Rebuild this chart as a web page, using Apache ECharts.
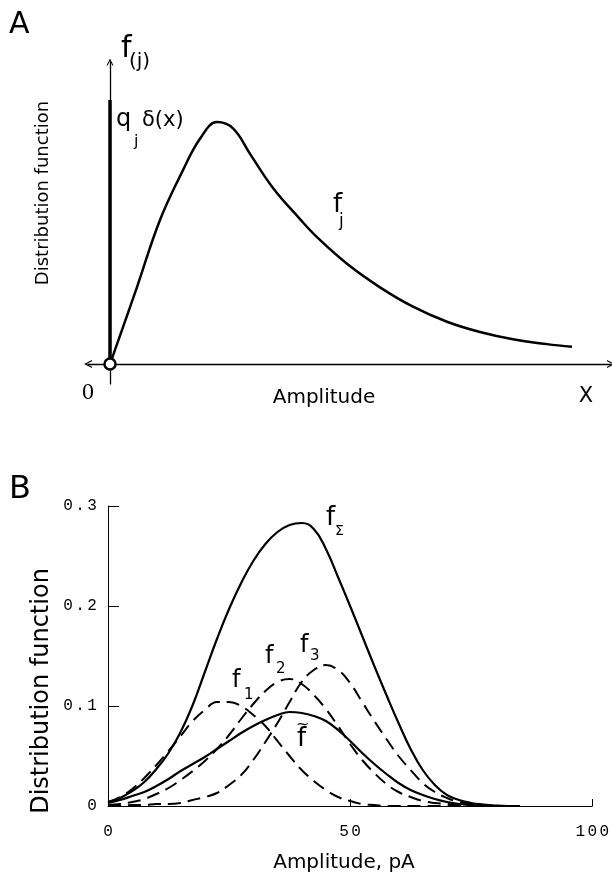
<!DOCTYPE html>
<html>
<head>
<meta charset="utf-8">
<script src="https://cdn.jsdelivr.net/npm/echarts@6/dist/echarts.min.js"></script>
<style>
  html, body { margin: 0; padding: 0; background: #fff; }
  #main { width: 612px; height: 878px; }
</style>
</head>
<body>
<div id="main"></div>
<script>
// ---- panel A : schematic, arbitrary units ----
var ampA = [0, 5.4, 10, 14.6, 18, 21.4, 24.6, 28, 32.6, 38, 41.4, 47.4, 54, 60.6, 67.4, 74, 80.6, 87.4, 92.4];
var fjA  = [0, 25.5, 47.7, 64.2, 74.6, 80.1, 78.0, 69.6, 58.3, 48.0, 42.0, 33.2, 25.4, 19.0, 14.0, 10.6, 8.2, 6.6, 5.7];
var deltaA = [0, 87.4];   // q_j delta(x) spike at x = 0

// ---- panel B : amplitude in pA ----
var ampB = [0, 2.5, 5, 7.5, 10, 12.5, 15, 17.5, 20, 22.5, 25, 27.5, 30, 32.5, 35, 37.5, 40, 42.5, 45, 47.5,
            50, 52.5, 55, 57.5, 60, 62.5, 65, 67.5, 70, 72.5, 75, 77.5, 80, 82.5, 85];
var fSum = [0.004, 0.008, 0.015, 0.024, 0.037, 0.053, 0.074, 0.101, 0.134, 0.167, 0.197, 0.223, 0.245, 0.262, 0.274, 0.281, 0.283, 0.277, 0.257, 0.229,
            0.200, 0.170, 0.140, 0.111, 0.083, 0.057, 0.036, 0.021, 0.011, 0.006, 0.003, 0.0015, 0.0005, 0, 0];
var fTilde = [0.003, 0.006, 0.010, 0.014, 0.020, 0.027, 0.035, 0.042, 0.049, 0.057, 0.065, 0.073, 0.080, 0.086, 0.091, 0.094, 0.093, 0.090, 0.085, 0.076,
              0.065, 0.053, 0.042, 0.032, 0.023, 0.016, 0.011, 0.007, 0.004, 0.002, 0.001, 0.0005, 0, 0, 0];
var f1 = [0.004, 0.009, 0.017, 0.028, 0.041, 0.055, 0.070, 0.085, 0.096, 0.104, 0.104, 0.100, 0.091, 0.080, 0.065, 0.050, 0.036, 0.025, 0.016, 0.009,
          0.005, 0.002, 0.001, 0, 0, 0, 0, 0, 0, 0, 0, 0, 0, 0, 0];
var f2 = [0.001, 0.002, 0.004, 0.007, 0.012, 0.018, 0.026, 0.035, 0.045, 0.057, 0.071, 0.087, 0.102, 0.115, 0.124, 0.127, 0.122, 0.111, 0.097, 0.080,
          0.062, 0.046, 0.033, 0.022, 0.014, 0.009, 0.005, 0.003, 0.002, 0.001, 0, 0, 0, 0, 0];
var f3 = [0, 0, 0.001, 0.001, 0.002, 0.002, 0.003, 0.006, 0.009, 0.013, 0.021, 0.031, 0.046, 0.064, 0.083, 0.104, 0.124, 0.136, 0.141, 0.136,
          0.123, 0.104, 0.085, 0.067, 0.050, 0.036, 0.023, 0.014, 0.008, 0.004, 0.002, 0.001, 0, 0, 0];
var xTicksB = ['0', '50', '100'];
var yTicksB = ['0', '0.1', '0.2', '0.3'];

var sans = '"DejaVu Sans", sans-serif';
var mono = '"Liberation Mono", monospace';
var chevron = 'path://M0,10 L5,0 L10,10 L8.4,10 L5,3.2 L1.6,10 Z';

function pairs(xs, ys) {
  return xs.map(function (x, i) { return [x, ys[i]]; });
}
// tick labels in the original are typewriter style with wide letter pitch
function spaced(s) {
  return s.split('').map(function (c) { return '{c|' + c + '}'; }).join('');
}
function txt(s, x, y, size, o) {
  o = o || {};
  return {
    type: 'text', x: x, y: y, rotation: o.rotation || 0, silent: true,
    style: {
      text: s, fill: '#000',
      font: 'normal ' + size + 'px ' + (o.family || sans),
      textAlign: o.align || 'left', textVerticalAlign: 'middle'
    }
  };
}
function curve(xs, ys, width, dashed) {
  return {
    type: 'line', xAxisIndex: 1, yAxisIndex: 1, data: pairs(xs, ys), symbol: 'none',
    smooth: 0.45, smoothConstraint: false,
    lineStyle: { color: '#000', width: width, type: dashed ? [13, 7] : 'solid' }
  };
}

var chart = echarts.init(document.getElementById('main'));
var richTick = { c: { width: 12, align: 'center', fontFamily: mono, fontSize: 16, color: '#000' } };

chart.setOption({
  animation: false,
  backgroundColor: '#fff',
  grid: [
    { left: 88, top: 62, width: 523, height: 322 },
    { left: 108, top: 506, width: 486, height: 300 }
  ],
  xAxis: [{
    gridIndex: 0, type: 'value', min: -4.4, max: 100.2,
    axisLine: { onZero: true, symbol: [chevron, chevron], symbolSize: [8, 8], lineStyle: { color: '#000', width: 1.3 } },
    axisTick: { show: false }, axisLabel: { show: false }, splitLine: { show: false }
  }, {
    gridIndex: 1, type: 'value', min: 0, max: 100, interval: 50,
    axisLine: { onZero: false, lineStyle: { color: '#000', width: 1 } },
    axisTick: { inside: true, length: 7, lineStyle: { color: '#000' } },
    axisLabel: {
      margin: 18, rich: richTick,
      formatter: function (v) { return spaced(xTicksB[Math.round(v / 50)]); }
    },
    splitLine: { show: false }
  }],
  yAxis: [{
    gridIndex: 0, type: 'value', min: -6.6, max: 100,
    axisLine: { onZero: true, symbol: ['none', chevron], symbolSize: [7, 7], lineStyle: { color: '#000', width: 1.3 } },
    axisTick: { show: false }, axisLabel: { show: false }, splitLine: { show: false }
  }, {
    gridIndex: 1, type: 'value', min: 0, max: 0.3, interval: 0.1,
    axisLine: { show: true, onZero: false, lineStyle: { color: '#000', width: 1 } },
    axisTick: { inside: true, length: 11, lineStyle: { color: '#000' } },
    axisLabel: {
      margin: 10, rich: richTick,
      formatter: function (v) { return spaced(yTicksB[Math.round(v * 10)]); }
    },
    splitLine: { show: false }
  }],
  series: [
    { type: 'line', xAxisIndex: 0, yAxisIndex: 0, data: pairs([0, 0], deltaA), symbol: 'none',
      lineStyle: { color: '#000', width: 3.5 }, z: 3 },
    { type: 'line', xAxisIndex: 0, yAxisIndex: 0, data: pairs(ampA, fjA), symbol: 'none',
      smooth: 0.4, smoothConstraint: false, lineStyle: { color: '#000', width: 2.5 }, z: 3 },
    { type: 'scatter', xAxisIndex: 0, yAxisIndex: 0, data: [[0, 0]], symbol: 'circle', symbolSize: 11,
      itemStyle: { color: '#fff', borderColor: '#000', borderWidth: 2.5, opacity: 1 }, z: 5 },

    curve(ampB, fSum, 2.2, false),
    curve(ampB, fTilde, 2.2, false),
    curve(ampB, f1, 2, true),
    curve(ampB, f2, 2, true),
    curve(ampB, f3, 2, true)
  ],
  graphic: [
    // panel A
    txt('A', 9, 25, 30),
    txt('f', 121, 49, 30),
    txt('(j)', 129, 62, 20),
    txt('q', 116, 120, 24),
    txt('j', 134, 142, 16),
    txt('\u03b4(x)', 142, 121, 21),
    txt('f', 333, 205, 26),
    txt('j', 339, 222, 17),
    txt('Distribution function', 43, 193, 18, { rotation: Math.PI / 2, align: 'center' }),
    txt('Amplitude', 324, 398, 20, { align: 'center' }),
    txt('0', 88, 393, 24, { align: 'center', family: '"Liberation Serif", serif' }),
    txt('X', 586, 397, 21, { align: 'center' }),
    // panel B
    txt('B', 9, 490, 32),
    txt('Distribution function', 42, 691, 24, { rotation: Math.PI / 2, align: 'center' }),
    txt('Amplitude, pA', 344, 863, 20, { align: 'center' }),
    txt('f', 326, 518, 26),
    txt('\u03a3', 335, 531, 14),
    txt('f', 232, 681, 24),
    txt('1', 244, 695, 15),
    txt('f', 265, 657, 24),
    txt('2', 276, 669, 15),
    txt('f', 300, 646, 24),
    txt('3', 310, 656, 15),
    txt('f', 297, 739, 26),
    txt('~', 296, 725, 16)
  ]
});
</script>
</body>
</html>
